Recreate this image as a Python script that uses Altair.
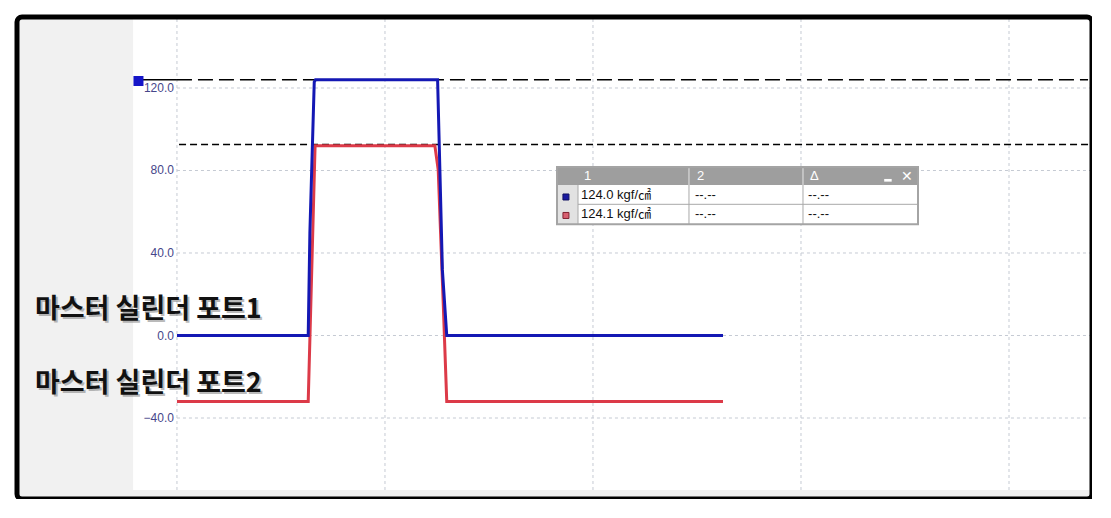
import altair as alt
import pandas as pd

# ---------------- data ----------------
# x in grid divisions (0 = first vertical grid line), y in kgf/cm2 (display units)
blue_x = [0.0, 0.631, 0.639, 0.660, 0.666, 1.253, 1.264, 1.276, 1.297, 2.625]
blue_y = [0.0, 0.0, 49.7, 122.9, 124.0, 124.0, 80.2, 31.8, 0.0, 0.0]
red_x = [0.0, 0.631, 0.664, 1.240, 1.256, 1.280, 1.297, 2.625]
red_y = [-32.0, -32.0, 92.0, 92.0, 80.2, 15.8, -32.0, -32.0]

y_ticks = [-40, 0, 40, 80, 120]
x_grid = [0, 1, 2, 3, 4]
ref_levels = [124.0, 92.6]

series_names = ["마스터 실린더 포트1", "마스터 실린더 포트2"]
series_label_y = [12.6, -23.6]

table_header = ["1", "2", "Δ"]
table_col1 = ["124.0 kgf/㎠", "124.1 kgf/㎠"]
table_col2 = ["--.--", "--.--"]
table_col3 = ["--.--", "--.--"]

# ---------------- layout (data units) ----------------
X_MIN, X_MAX = -0.769, 4.399
Y_MIN, Y_MAX = -79.27, 154.42
PANEL_RIGHT = -0.211      # end of dotted left panel
STRIP_TOP = -74.9         # top of dotted bottom strip

BLUE = "#1418b4"
RED = "#dc3a48"
GRID = "#c5cad3"
TABLE_FONT = "Liberation Sans, Noto Sans CJK KR, sans-serif"

xs = alt.Scale(domain=[X_MIN, X_MAX], nice=False, zero=False)
ys = alt.Scale(domain=[Y_MIN, Y_MAX], nice=False, zero=False)


def X(f):
    return alt.X(f, type="quantitative", scale=xs, axis=None)


def Y(f):
    return alt.Y(f, type="quantitative", scale=ys, axis=None)


# ---------------- background panels ----------------
panels = pd.DataFrame({
    "x": [X_MIN, X_MIN],
    "x2": [PANEL_RIGHT, X_MAX],
    "y": [Y_MIN, Y_MIN],
    "y2": [Y_MAX, STRIP_TOP],
})
panel_layer = alt.Chart(panels).mark_rect(fill="#f1f1f1").encode(
    x=X("x"), x2=alt.X2("x2"), y=Y("y"), y2=alt.Y2("y2"))

# ---------------- grid lines and y labels ----------------
hgrid = pd.DataFrame({"y": y_ticks, "x": [0] * len(y_ticks), "x2": [X_MAX] * len(y_ticks)})
hgrid_layer = alt.Chart(hgrid).mark_rule(color=GRID, strokeDash=[3, 3], strokeWidth=1).encode(
    x=X("x"), x2=alt.X2("x2"), y=Y("y"))

ylab_layer = alt.Chart(hgrid).mark_text(align="right", baseline="middle", dx=-3,
                                       font="Liberation Sans", fontSize=12,
                                       color="#46468a").encode(
    x=X("x"), y=Y("y"), text=alt.Text("y:Q", format=".1f"))

vgrid = pd.DataFrame({"x": x_grid, "y": [STRIP_TOP] * len(x_grid), "y2": [Y_MAX] * len(x_grid)})
vgrid_layer = alt.Chart(vgrid).mark_rule(color=GRID, strokeDash=[3, 3], strokeWidth=1).encode(
    x=X("x"), y=Y("y"), y2=alt.Y2("y2"))

# ---------------- reference (cursor) lines ----------------
ref_solid = pd.DataFrame({"y": [ref_levels[0]], "x": [-0.168], "x2": [0.0]})
ref_solid_layer = alt.Chart(ref_solid).mark_rule(color="black", strokeWidth=1.5).encode(
    x=X("x"), x2=alt.X2("x2"), y=Y("y"))
ref_long = pd.DataFrame({"y": [ref_levels[0]], "x": [0.0], "x2": [4.38]})
ref_long_layer = alt.Chart(ref_long).mark_rule(color="black", strokeWidth=1.5,
                                              strokeDash=[15, 6]).encode(
    x=X("x"), x2=alt.X2("x2"), y=Y("y"))
ref_short = pd.DataFrame({"y": [ref_levels[1]], "x": [0.01], "x2": [4.38]})
ref_short_layer = alt.Chart(ref_short).mark_rule(color="black", strokeWidth=1.5,
                                                strokeDash=[7, 4]).encode(
    x=X("x"), x2=alt.X2("x2"), y=Y("y"))

marker = pd.DataFrame({"x": [-0.185], "y": [123.4]})
marker_layer = alt.Chart(marker).mark_square(size=100, color="#1515c8", opacity=1).encode(
    x=X("x"), y=Y("y"))

# ---------------- traces ----------------
blue_df = pd.DataFrame({"x": blue_x, "y": blue_y, "o": range(len(blue_x))})
red_df = pd.DataFrame({"x": red_x, "y": red_y, "o": range(len(red_x))})
red_layer = alt.Chart(red_df).mark_line(color=RED, strokeWidth=3).encode(
    x=X("x"), y=Y("y"), order="o:Q")
blue_layer = alt.Chart(blue_df).mark_line(color=BLUE, strokeWidth=3).encode(
    x=X("x"), y=Y("y"), order="o:Q")

# ---------------- series labels ----------------
lab = pd.DataFrame({"t": series_names, "y": series_label_y, "x": [-0.683, -0.683]})
lab_shadow = alt.Chart(lab).mark_text(align="left", baseline="middle", font="Noto Sans CJK KR",
                                     fontSize=27, fontWeight="bold", color="#777777",
                                     opacity=0.5, dx=2, dy=2).encode(
    x=X("x"), y=Y("y"), text="t:N")
lab_text = alt.Chart(lab).mark_text(align="left", baseline="middle", font="Noto Sans CJK KR",
                                   fontSize=27, fontWeight="bold", color="#111111").encode(
    x=X("x"), y=Y("y"), text="t:N")

# ---------------- measurement table ----------------
T_L, T_R = 1.827, 3.5625
T_TOP, T_HDR, T_ROW1, T_BOT = 81.70, 72.97, 63.61, 53.9
C0, C1, C2 = 1.928, 2.4615, 3.0096

tbl_rects = pd.DataFrame({
    "x": [T_L, T_L, T_L],
    "x2": [T_R, T_R, C0],
    "y": [T_BOT, T_HDR, T_BOT],
    "y2": [T_TOP, T_TOP, T_HDR],
    "fill": ["#ffffff", "#9e9e9e", "#e2e2e2"],
})
tbl_rect_layer = alt.Chart(tbl_rects).mark_rect().encode(
    x=X("x"), x2=alt.X2("x2"), y=Y("y"), y2=alt.Y2("y2"),
    fill=alt.Fill("fill:N", scale=None))

tbl_border = pd.DataFrame({"x": [T_L], "x2": [T_R], "y": [T_BOT], "y2": [T_TOP]})
tbl_border_layer = alt.Chart(tbl_border).mark_rect(fill=None, stroke="#a4a4a4", strokeWidth=2).encode(
    x=X("x"), x2=alt.X2("x2"), y=Y("y"), y2=alt.Y2("y2"))

tbl_lines = pd.DataFrame({
    "x": [C1, C2, C0, C1, C2, C0],
    "x2": [C1, C2, C0, C1, C2, T_R],
    "y": [T_HDR, T_HDR, T_BOT, T_BOT, T_BOT, T_ROW1],
    "y2": [T_TOP - 0.6, T_TOP - 0.6, T_HDR, T_HDR, T_HDR, T_ROW1],
    "c": ["#e6e6e6", "#e6e6e6", "#a8a8a8", "#a8a8a8", "#a8a8a8", "#a8a8a8"],
})
tbl_lines_layer = alt.Chart(tbl_lines).mark_rule(strokeWidth=1).encode(
    x=X("x"), x2=alt.X2("x2"), y=Y("y"), y2=alt.Y2("y2"), color=alt.Color("c:N", scale=None))

hdr = pd.DataFrame({"t": table_header, "x": [1.957, 2.50, 3.043], "y": [77.3] * 3})
hdr_layer = alt.Chart(hdr).mark_text(align="left", baseline="middle", font=TABLE_FONT,
                                    fontSize=13, color="white").encode(
    x=X("x"), y=Y("y"), text="t:N")

close_x = pd.DataFrame({"t": ["✕"], "x": [3.509], "y": [77.0]})
close_layer = alt.Chart(close_x).mark_text(align="center", baseline="middle", font="DejaVu Sans",
                                          fontSize=14, fontWeight="bold", color="white").encode(
    x=X("x"), y=Y("y"), text="t:N")
minim = pd.DataFrame({"x": [3.40], "x2": [3.436], "y": [74.6], "y2": [75.9]})
minim_layer = alt.Chart(minim).mark_rect(fill="white").encode(
    x=X("x"), x2=alt.X2("x2"), y=Y("y"), y2=alt.Y2("y2"))

cells = pd.DataFrame({
    "t": table_col1 + table_col2 + table_col3,
    "x": [1.942] * 2 + [2.490] * 2 + [3.034] * 2,
    "y": [68.1, 59.15] * 3,
})
cells_layer = alt.Chart(cells).mark_text(align="left", baseline="middle", font=TABLE_FONT,
                                        fontSize=13, color="#111111").encode(
    x=X("x"), y=Y("y"), text="t:N")

sq = pd.DataFrame({"x": [1.870, 1.870], "y": [67.15, 58.2],
                   "f": ["#1a1aa0", "#d86070"], "s": ["#101060", "#802030"]})
sq_layer = alt.Chart(sq).mark_square(size=36, opacity=1, strokeWidth=1).encode(
    x=X("x"), y=Y("y"), fill=alt.Fill("f:N", scale=None), stroke=alt.Stroke("s:N", scale=None))

# ---------------- outer frame ----------------
frame = pd.DataFrame({"x": [X_MIN], "x2": [X_MAX], "y": [Y_MIN], "y2": [Y_MAX]})
frame_layer = alt.Chart(frame).mark_rect(fill=None, stroke="black", strokeWidth=5,
                                        cornerRadius=5).encode(
    x=X("x"), x2=alt.X2("x2"), y=Y("y"), y2=alt.Y2("y2"))

chart = alt.layer(
    panel_layer, hgrid_layer, vgrid_layer, ylab_layer,
    ref_solid_layer, ref_long_layer, ref_short_layer,
    red_layer, blue_layer, marker_layer,
    lab_shadow, lab_text,
    tbl_rect_layer, tbl_lines_layer, tbl_border_layer, hdr_layer, close_layer, minim_layer,
    cells_layer, sq_layer, frame_layer,
).properties(
    width=1075, height=482,
    autosize=alt.AutoSizeParams(type="none"),
    padding={"left": 9, "top": 9, "right": 0, "bottom": 0},
    background="white",
).configure_view(
    stroke=None, fill="white"
)

chart.save("out.html", embed_options={"renderer": "svg", "actions": False})
